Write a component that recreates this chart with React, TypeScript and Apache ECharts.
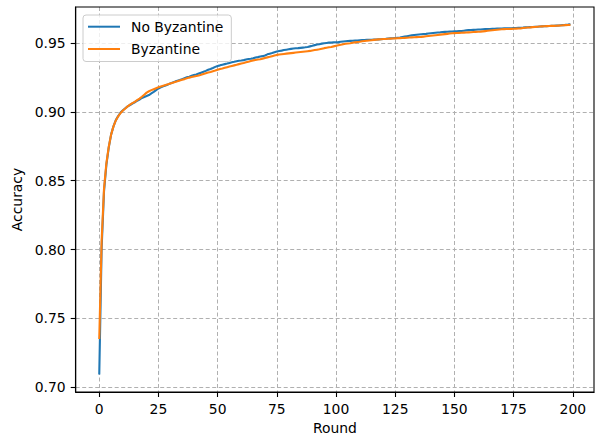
import React, { useEffect, useRef } from "react";
import * as echarts from "echarts";

const seriesNames = ["No Byzantine", "Byzantine"];
const xTicks = [0, 25, 50, 75, 100, 125, 150, 175, 200];
const yTicks = [0.7, 0.75, 0.8, 0.85, 0.9, 0.95];

const noByzantine = [
  0.7092, 0.8010, 0.8420, 0.8615, 0.8740, 0.8835, 0.8895, 0.8940, 0.8970, 0.8995,
  0.9012, 0.9026, 0.9040, 0.9050, 0.9061, 0.9070, 0.9081, 0.9090, 0.9101, 0.9108,
  0.9115, 0.9122, 0.9134, 0.9145, 0.9158, 0.9170, 0.9178, 0.9186, 0.9192, 0.9199,
  0.9207, 0.9213, 0.9220, 0.9226, 0.9231, 0.9238, 0.9245, 0.9252, 0.9256, 0.9262,
  0.9268, 0.9272, 0.9279, 0.9285, 0.9291, 0.9298, 0.9306, 0.9312, 0.9319, 0.9327,
  0.9334, 0.9338, 0.9343, 0.9347, 0.9351, 0.9356, 0.9361, 0.9364, 0.9368, 0.9371,
  0.9373, 0.9376, 0.9380, 0.9384, 0.9386, 0.9389, 0.9395, 0.9398, 0.9402, 0.9405,
  0.9410, 0.9418, 0.9423, 0.9428, 0.9434, 0.9439, 0.9442, 0.9445, 0.9449, 0.9452,
  0.9455, 0.9458, 0.9460, 0.9462, 0.9463, 0.9465, 0.9467, 0.9469, 0.9472, 0.9476,
  0.9480, 0.9485, 0.9489, 0.9492, 0.9496, 0.9499, 0.9501, 0.9503, 0.9504, 0.9505,
  0.9506, 0.9507, 0.9509, 0.9511, 0.9513, 0.9515, 0.9516, 0.9517, 0.9518, 0.9519,
  0.9520, 0.9521, 0.9522, 0.9523, 0.9523, 0.9524, 0.9525, 0.9526, 0.9527, 0.9528,
  0.9530, 0.9531, 0.9533, 0.9534, 0.9535, 0.9537, 0.9539, 0.9541, 0.9544, 0.9547,
  0.9550, 0.9553, 0.9556, 0.9558, 0.9560, 0.9562, 0.9564, 0.9566, 0.9567, 0.9569,
  0.9571, 0.9573, 0.9575, 0.9577, 0.9578, 0.9580, 0.9581, 0.9582, 0.9583, 0.9584,
  0.9585, 0.9586, 0.9587, 0.9588, 0.9590, 0.9592, 0.9594, 0.9595, 0.9596, 0.9597,
  0.9598, 0.9599, 0.9600, 0.9601, 0.9601, 0.9602, 0.9603, 0.9604, 0.9605, 0.9606,
  0.9606, 0.9607, 0.9607, 0.9608, 0.9608, 0.9609, 0.9609, 0.9610, 0.9611, 0.9612,
  0.9614, 0.9615, 0.9616, 0.9617, 0.9618, 0.9619, 0.9620, 0.9621, 0.9622, 0.9623,
  0.9624, 0.9625, 0.9626, 0.9627, 0.9628, 0.9629, 0.9630, 0.9632, 0.9634, 0.9637,
];

const byzantine = [
  0.7350, 0.8060, 0.8440, 0.8625, 0.8745, 0.8835, 0.8895, 0.8938, 0.8968, 0.8992,
  0.9010, 0.9025, 0.9040, 0.9052, 0.9063, 0.9073, 0.9085, 0.9096, 0.9110, 0.9125,
  0.9140, 0.9150, 0.9158, 0.9165, 0.9172, 0.9179, 0.9185, 0.9190, 0.9195, 0.9200,
  0.9206, 0.9211, 0.9217, 0.9222, 0.9228, 0.9233, 0.9238, 0.9244, 0.9249, 0.9253,
  0.9257, 0.9261, 0.9265, 0.9270, 0.9276, 0.9281, 0.9286, 0.9290, 0.9295, 0.9300,
  0.9306, 0.9311, 0.9315, 0.9320, 0.9325, 0.9330, 0.9334, 0.9338, 0.9342, 0.9347,
  0.9351, 0.9355, 0.9360, 0.9365, 0.9370, 0.9374, 0.9377, 0.9380, 0.9383, 0.9387,
  0.9392, 0.9396, 0.9400, 0.9405, 0.9410, 0.9414, 0.9417, 0.9419, 0.9421, 0.9423,
  0.9425, 0.9427, 0.9429, 0.9431, 0.9433, 0.9435, 0.9437, 0.9439, 0.9441, 0.9443,
  0.9446, 0.9449, 0.9452, 0.9455, 0.9459, 0.9463, 0.9466, 0.9469, 0.9472, 0.9476,
  0.9480, 0.9484, 0.9488, 0.9492, 0.9495, 0.9497, 0.9499, 0.9502, 0.9505, 0.9508,
  0.9510, 0.9513, 0.9515, 0.9517, 0.9519, 0.9521, 0.9523, 0.9525, 0.9527, 0.9528,
  0.9529, 0.9530, 0.9531, 0.9532, 0.9533, 0.9534, 0.9535, 0.9536, 0.9537, 0.9538,
  0.9539, 0.9540, 0.9541, 0.9542, 0.9543, 0.9544, 0.9545, 0.9547, 0.9549, 0.9551,
  0.9553, 0.9555, 0.9557, 0.9559, 0.9561, 0.9563, 0.9565, 0.9567, 0.9569, 0.9571,
  0.9572, 0.9573, 0.9574, 0.9575, 0.9576, 0.9577, 0.9578, 0.9579, 0.9580, 0.9581,
  0.9582, 0.9583, 0.9585, 0.9587, 0.9589, 0.9591, 0.9593, 0.9595, 0.9597, 0.9599,
  0.9600, 0.9601, 0.9602, 0.9602, 0.9603, 0.9604, 0.9605, 0.9606, 0.9607, 0.9609,
  0.9611, 0.9613, 0.9614, 0.9616, 0.9617, 0.9619, 0.9620, 0.9621, 0.9622, 0.9623,
  0.9624, 0.9625, 0.9625, 0.9626, 0.9627, 0.9628, 0.9629, 0.9630, 0.9631, 0.9632,
];

const FONT = "DejaVu Sans";

export default function App() {
  const ref = useRef<HTMLDivElement>(null);
  useEffect(() => {
    if (!ref.current) return;
    const chart = echarts.init(ref.current, undefined, { renderer: "svg" });
    const toPairs = (arr: number[]) => arr.map((v, i) => [i, v]);
    const axisCommon = {
      axisLine: { show: true, onZero: false, lineStyle: { color: "#000", width: 1.1 } },
      axisTick: { show: true, length: 5, lineStyle: { color: "#000", width: 1.1 } },
      splitLine: { show: true, lineStyle: { color: "#b0b0b0", width: 1, type: [4, 2.5] } },
      nameTextStyle: { fontFamily: FONT, fontSize: 13.9, color: "#000" },
    };
    chart.setOption({
      animation: false,
      backgroundColor: "#fff",
      textStyle: { fontFamily: FONT },
      grid: {
        left: 75.7,
        right: 3,
        top: 7,
        bottom: 46,
        show: true,
        z: 10,
        backgroundColor: "transparent",
        borderColor: "#000",
        borderWidth: 1.1,
        containLabel: false,
      },
      legend: {
        left: 83,
        top: 15,
        orient: "vertical",
        icon: "rect",
        itemWidth: 32,
        itemHeight: 2,
        itemGap: 8.3,
        padding: [4.7, 8, 5.5, 5],
        borderColor: "#cccccc",
        borderWidth: 1,
        borderRadius: 3,
        backgroundColor: "rgba(255,255,255,0.8)",
        textStyle: { fontFamily: FONT, fontSize: 13.9, color: "#000", padding: [0, 0, 0, 6] },
        data: seriesNames,
      },
      xAxis: {
        type: "value",
        min: -9.95,
        max: 208.95,
        name: "Round",
        nameLocation: "middle",
        nameGap: 29,
        ...axisCommon,
        axisTick: { ...axisCommon.axisTick, customValues: xTicks },
        axisLabel: {
          customValues: xTicks,
          margin: 10,
          fontFamily: FONT,
          fontSize: 13.9,
          color: "#000",
          formatter: (v: number) => String(v),
        },
      },
      yAxis: {
        type: "value",
        min: 0.6965,
        max: 0.9762,
        name: "Accuracy",
        nameLocation: "middle",
        nameGap: 49,
        ...axisCommon,
        axisTick: { ...axisCommon.axisTick, customValues: yTicks },
        axisLabel: {
          customValues: yTicks,
          margin: 10,
          fontFamily: FONT,
          fontSize: 13.9,
          color: "#000",
          formatter: (v: number) => v.toFixed(2),
        },
      },
      series: [
        {
          name: seriesNames[0],
          type: "line",
          data: toPairs(noByzantine),
          showSymbol: false,
          symbol: "none",
          lineStyle: { color: "#1f77b4", width: 2.1 },
          itemStyle: { color: "#1f77b4" },
        },
        {
          name: seriesNames[1],
          type: "line",
          data: toPairs(byzantine),
          showSymbol: false,
          symbol: "none",
          lineStyle: { color: "#ff7f0e", width: 2.1 },
          itemStyle: { color: "#ff7f0e" },
        },
      ],
    });
    return () => chart.dispose();
  }, []);
  return (
    <div
      ref={ref}
      style={{ position: "fixed", left: 0, top: 0, width: 597, height: 440 }}
    />
  );
}
